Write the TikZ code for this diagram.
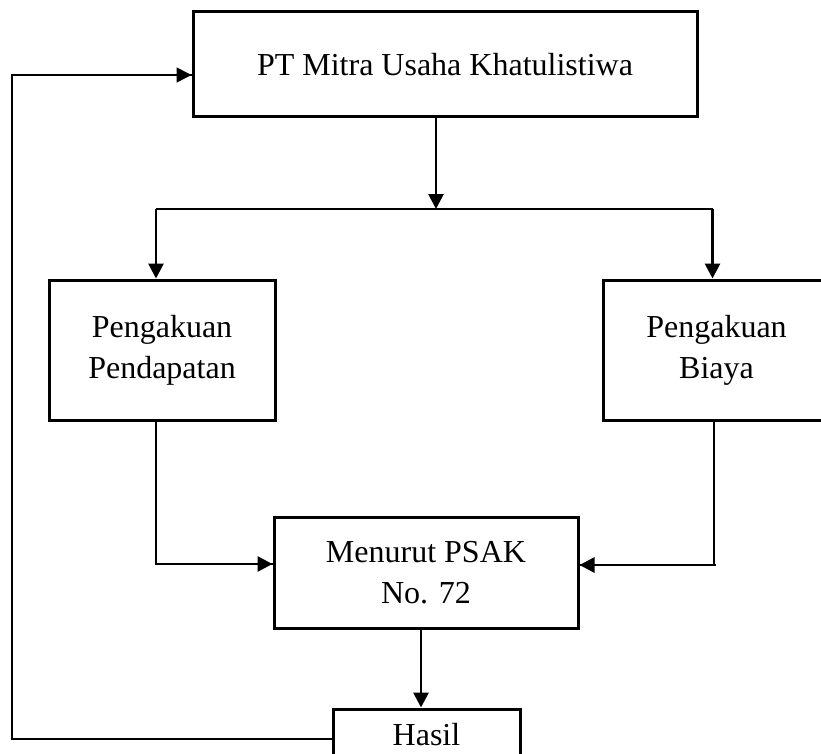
\documentclass[tikz,border=0pt]{standalone}
\usepackage{fontspec}
\setmainfont{Liberation Serif}
\usetikzlibrary{positioning,arrows.meta,calc}

\begin{document}
\begin{tikzpicture}[x=1pt,y=-1pt,font=\fontsize{32}{41}\selectfont,
            box/.style={draw, line width=3pt, align=center, inner sep=0pt},
            thinline/.style={line width=1.5pt},
            thickline/.style={line width=2.8pt},
            tip/.style={-{Triangle[length=15pt,width=15pt]}}]

            \useasboundingbox (0,0) rectangle (821,754);

            % boxes
            \node[box, minimum width=504pt, minimum height=105pt] (ptmuk) at (445,64.5) {PT Mitra Usaha Khatulistiwa};
            \node[box, minimum width=226pt, minimum height=140pt] (pendapatan) at (162,350) {Pengakuan\\Pendapatan};
            \node[box, minimum width=227pt, minimum height=140pt] (biaya) at (716.5,350) {Pengakuan\\Biaya};
            \node[box, minimum width=304pt, minimum height=111pt] (psak) at (426,572.5) {Menurut PSAK\\No. 72};
            \node[box, minimum width=187pt, minimum height=52pt] (hasil) at (426.5,735) {Hasil};

            \coordinate (split) at (436,209);
            \coordinate (loopturn) at (12,739);
            \coordinate (pendin) at ([xshift=-6pt]pendapatan.north);
            \coordinate (pendout) at ([xshift=-6pt]pendapatan.south);
            \coordinate (biayain) at ([xshift=-4pt]biaya.north);
            \coordinate (biayaout) at ([xshift=-2.5pt]biaya.south);
            \coordinate (psakleft) at ([yshift=8.5pt]psak.west);
            \coordinate (psakright) at ([yshift=7.5pt]psak.east);
            \coordinate (psakout) at ([xshift=-5pt]psak.south);
            \coordinate (ptmukin) at ([yshift=-10.5pt]ptmuk.west);
            \coordinate (hasilin) at ([yshift=-4pt]hasil.west);

            % connectors
            \draw[thickline, tip] (ptmuk.south -| split) -- (split);
            \draw[thinline] (split -| pendin) -- (split -| biayain);
            \draw[thickline, tip] (split -| pendin) -- (pendin);
            \draw[thickline, tip] (split -| biayain) -- (biayain);
            \draw[thinline] (pendout) |- (psakleft);
            \draw[thickline, tip] ([xshift=-118pt]psakleft) -- (psakleft);
            \draw[thinline] (biayaout) |- (psakright);
            \draw[thickline, tip] ([xshift=136pt]psakright) -- (psakright);
            \draw[thickline, tip] (psakout) -- (psakout |- hasil.north);
            \draw[thinline] (hasilin) -- (loopturn) |- (ptmukin);
            \draw[thinline, tip] ([xshift=-40pt]ptmukin) -- (ptmukin);
        \end{tikzpicture}
\end{document}
